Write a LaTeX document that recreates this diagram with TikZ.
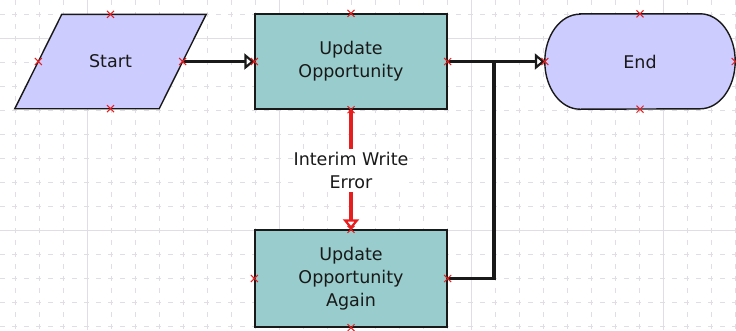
\documentclass[tikz,border=0pt]{standalone}
\usepackage{fontspec}
\setmainfont{DejaVu Sans}
\usetikzlibrary{arrows.meta,calc}
\definecolor{gridc}{RGB}{224,221,228}
\definecolor{lav}{RGB}{204,204,255}
\definecolor{boxteal}{RGB}{153,204,204}
\definecolor{mred}{RGB}{232,30,30}
\definecolor{ink}{RGB}{25,25,25}
\pgfdeclarelayer{bg}
\pgfdeclarelayer{shapes}
\pgfsetlayers{bg,shapes,main}
\tikzset{
  txt/.style={font=\fontsize{17.5}{23}\selectfont, align=center, text=ink},
  outline/.style={draw=ink, line width=1.4pt},
  taskbox/.style={txt, outline, fill=boxteal, minimum width=192, minimum height=95, inner sep=0pt},
  ghost/.style={txt, minimum width=#1, inner sep=0pt},
  flow/.style={ink, line width=3.5pt, -{Triangle[length=10pt,width=16pt,fill=white,line width=2.2pt]}},
  plainflow/.style={ink, line width=3.5pt},
  errflow/.style={mred, line width=3.5pt, -{Triangle[length=10pt,width=16pt,fill=white,line width=2.2pt]}},
  errlabel/.style={txt, fill=white, inner xsep=1pt, inner ysep=3pt},
  minorgrid/.style={gridc, line width=1pt, dash pattern=on 5pt off 7pt},
  majorgrid/.style={gridc, line width=1pt},
  pics/xmark/.style={code={\draw[mred, line width=1pt] (-3.5,-3.5)--(3.5,3.5) (-3.5,3.5)--(3.5,-3.5);}}
}
\begin{document}
\begin{tikzpicture}[x=1pt,y=-1pt]
\useasboundingbox (0,0) rectangle (736,330);
\begin{pgfonlayer}{bg}
  \fill[white] (0,0) rectangle (736,330);
  \foreach \x in {15,39,...,735} \draw[minorgrid] (\x,0) -- (\x,330);
  \foreach \y in {14,38,...,326} \draw[minorgrid] (0,\y) -- (736,\y);
  \foreach \x in {87,279,471,663} \draw[majorgrid] (\x,0) -- (\x,330);
  \foreach \y in {38,230} \draw[majorgrid] (0,\y) -- (736,\y);
\end{pgfonlayer}

% nodes
\node[ghost=144, minimum height=94] (start) at (110.5,61.5) {Start};
\node[taskbox] (uo) at (351,61.5) {Update\\Opportunity};
\node[taskbox, minimum height=97] (uoa) at (351,278.5) {Update\\Opportunity\\Again};
\node[ghost=190, minimum height=95] (end) at (640,61.5) {End};

% shapes behind the texts
\begin{pgfonlayer}{shapes}
  \draw[outline, fill=lav]
    ($(start.north west)+(23.5,0)$) -- ($(start.north east)+(23.5,0)$) --
    ($(start.south east)+(-23.5,0)$) -- ($(start.south west)+(-23.5,0)$) -- cycle;
  \draw[outline, fill=lav]
    ($(end.north west)+(35,0)$) -- ($(end.north east)+(-35,0)$)
    arc[start angle=-90, end angle=90, x radius=35, y radius=47.5]
    -- ($(end.south west)+(35,0)$)
    arc[start angle=90, end angle=270, x radius=35, y radius=47.5] -- cycle;
\end{pgfonlayer}

% connectors
\coordinate (j) at (494,61.5);
\draw[flow] (start.east) -- (uo.west);
\draw[flow] (uo.east) -- (end.west);
\draw[plainflow] (uoa.east) -| (j);
\draw[errflow] (uo.south) -- node[errlabel, pos=0.51] {Interim Write\\Error} (uoa.north);

% connection point markers
\foreach \n in {start.north,start.south,start.east,start.west,
                uo.north,uo.south,uo.east,uo.west,
                uoa.north,uoa.south,uoa.east,uoa.west,
                end.north,end.south,end.east,end.west}
  \pic at (\n) {xmark};
\end{tikzpicture}
\end{document}
